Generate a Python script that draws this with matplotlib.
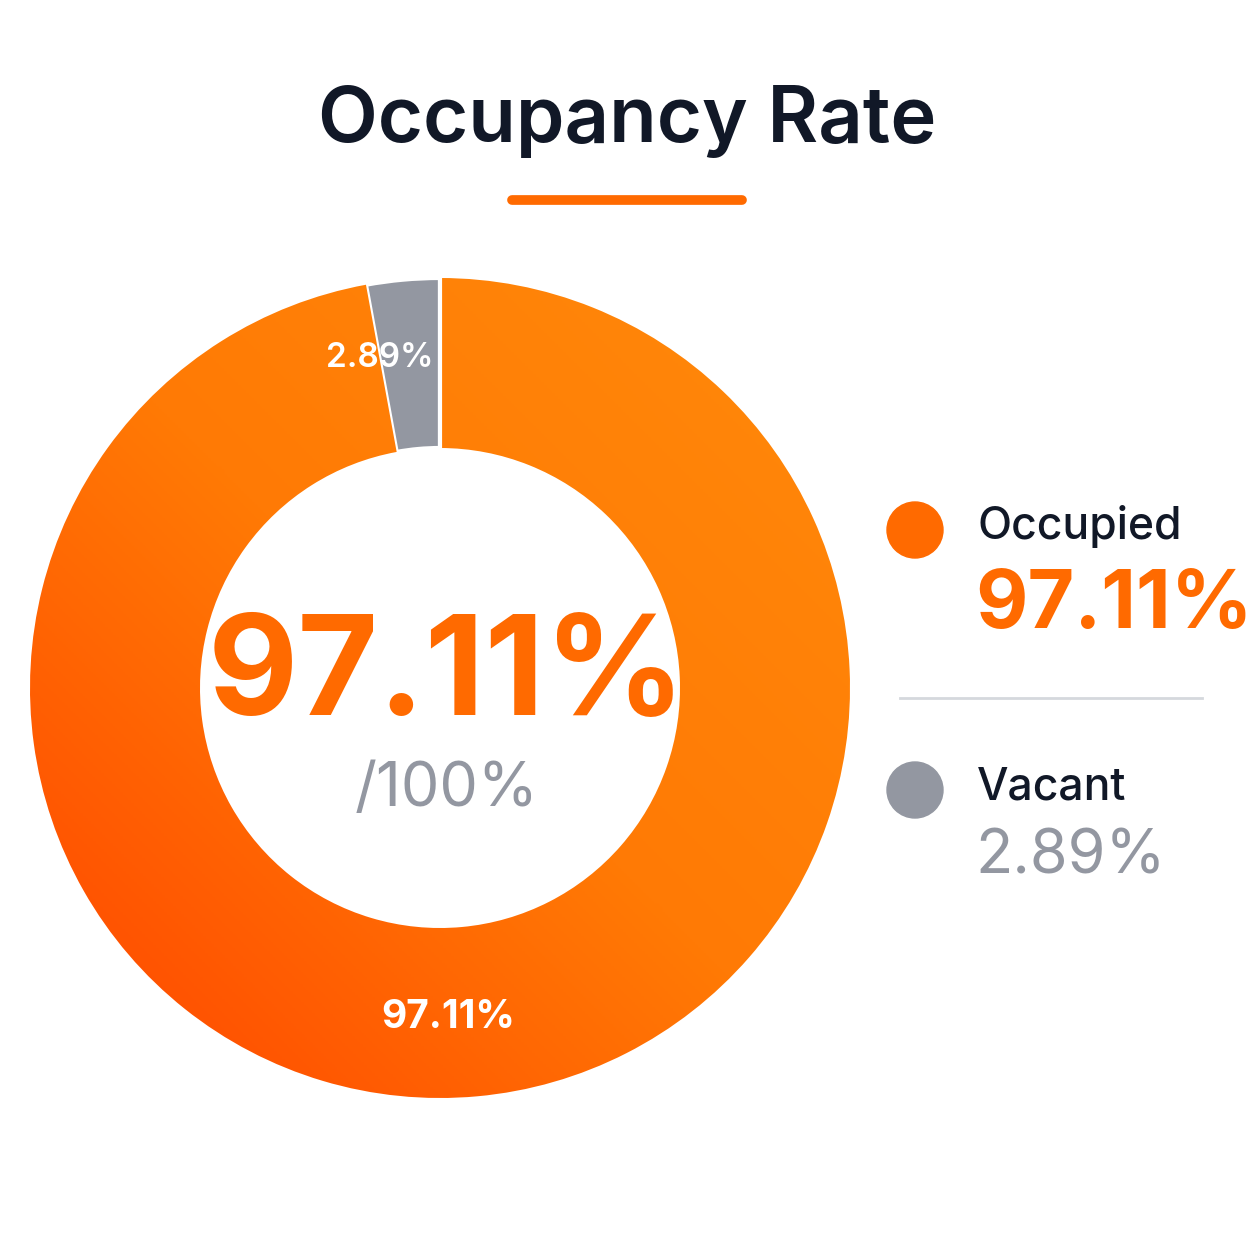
import numpy as np
import matplotlib.pyplot as plt
from matplotlib.patches import Wedge, Circle
from matplotlib.colors import LinearSegmentedColormap

plt.rcParams['font.family'] = ['Inter', 'DejaVu Sans']

labels = ["Occupied", "Vacant"]
values = [97.11, 2.89]
total_label = "/100%"
title = "Occupancy Rate"

ORANGE = "#FF6A00"
GREY = "#9397A1"
DARK = "#111827"

W = 1254
fig = plt.figure(figsize=(12.54, 12.54), dpi=100)
fig.patch.set_facecolor("white")


def px(x, y):
    return x / W, 1 - y / W


# title and underline
fig.text(*px(627, 122), title, ha="center", va="center", fontsize=56,
         fontweight="semibold", color=DARK)
fig.add_artist(plt.Line2D([512 / W, 742 / W], [1 - 200 / W] * 2, color=ORANGE,
                          lw=7, solid_capstyle="round"))

# donut
cx, cy, r = 440, 688, 410
ax = fig.add_axes([(cx - r) / W, 1 - (cy + r) / W, 2 * r / W, 2 * r / W])
ax.set_xlim(-1, 1)
ax.set_ylim(-1, 1)
ax.set_aspect("equal")
ax.axis("off")

inner = 240 / r
width = 1 - inner
angles = np.cumsum([0] + values) / sum(values) * 360
start = 90
occ_theta1 = start + angles[1] * 0 - values[0] / sum(values) * 360
# occupied goes clockwise from top, vacant sits counter-clockwise of top
occ = Wedge((0, 0), 1, start - values[0] / 100 * 360, start, width=width,
            facecolor="none", edgecolor="none")
vac = Wedge((0, 0), 1, start, start + values[1] / 100 * 360, width=width,
            facecolor=GREY, edgecolor="white", lw=3)
ax.add_patch(occ)
ax.add_patch(vac)

cmap = LinearSegmentedColormap.from_list("og", ["#FF4400", "#FF7A05", "#FF8A0A"])
gx, gy = np.meshgrid(np.linspace(-1, 1, 300), np.linspace(-1, 1, 300))
grad = (gx + gy + 2) / 4
im = ax.imshow(grad, extent=(-1, 1, -1, 1), origin="lower", cmap=cmap, zorder=1)
im.set_clip_path(occ)
ax.plot([0, 0], [inner, 1], color="white", lw=3, zorder=3)

# slice labels
mid_v = np.deg2rad(start + values[1] / 100 * 180)
rr = (1 + inner) / 2 * 1.02
ax.text(rr * np.cos(mid_v) * 2.0, rr * np.sin(mid_v), f"{values[1]:.2f}%",
        ha="center", va="center", color="white", fontsize=24, fontweight="semibold", zorder=4)
ax.text(0.02, -rr * 0.995, f"{values[0]:.2f}%", ha="center", va="center",
        color="white", fontsize=28, fontweight="bold", zorder=4)

# centre text
fig.text(*px(447, 678), f"{values[0]:.2f}%", ha="center", va="center", fontsize=100,
         fontweight="bold", color=ORANGE)
fig.text(*px(447, 790), total_label, ha="center", va="center", fontsize=44,
         color=GREY)

# legend
colors = [ORANGE, GREY]
ys = [527, 787]
for lab, val, col, y in zip(labels, values, colors, ys):
    fig.add_artist(Circle(px(915, y + 3), 28 / W, color=col, transform=fig.transFigure))
    fig.text(*px(977, y), lab, ha="left", va="center", fontsize=32,
             fontweight="medium", color=DARK)
fig.text(*px(975, 607), f"{values[0]:.2f}%", ha="left", va="center", fontsize=58,
         fontweight="bold", color=ORANGE)
fig.text(*px(975, 857), f"{values[1]:.2f}%", ha="left", va="center", fontsize=44,
         color=GREY)
fig.add_artist(plt.Line2D([900 / W, 1202 / W], [1 - 698 / W] * 2, color="#D5D8DD", lw=2))

fig.savefig("out.png", dpi=100, facecolor="white")
